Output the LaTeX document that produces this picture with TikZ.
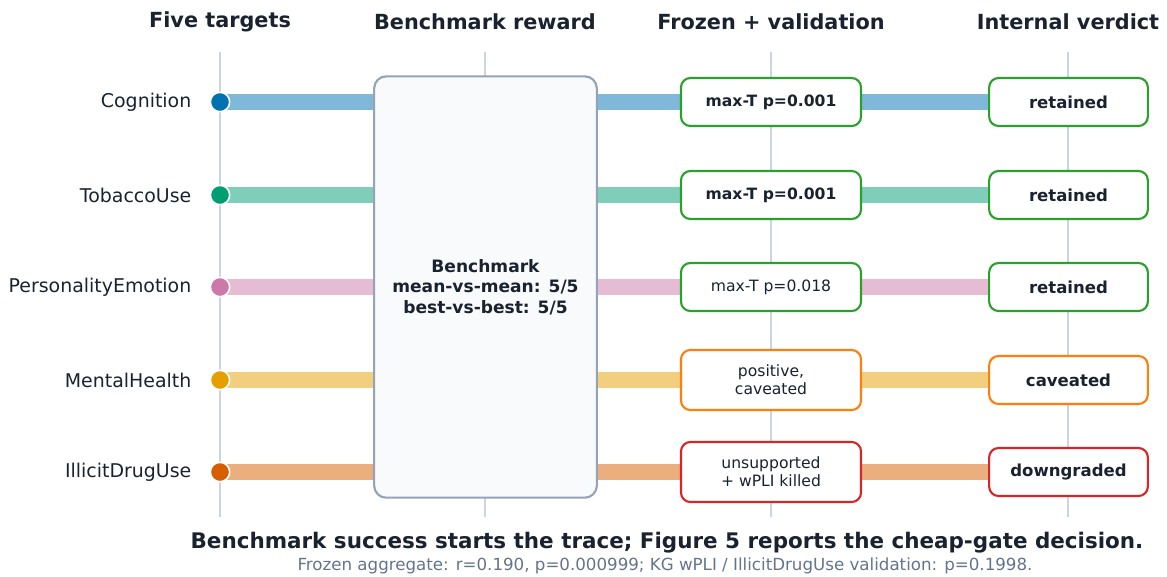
\documentclass[tikz,border=0pt]{standalone}
\usepackage{fontspec}
\setmainfont{DejaVu Sans}
\usetikzlibrary{positioning}
\definecolor{ink}{HTML}{1A2230}
\definecolor{grid}{HTML}{CBD5E1}
\definecolor{subgrey}{HTML}{64748B}
\definecolor{bmfill}{HTML}{F8FAFC}
\definecolor{bmdraw}{HTML}{94A3B8}
\definecolor{okgreen}{HTML}{2CA02C}
\definecolor{warnorange}{HTML}{FF7F0E}
\definecolor{badred}{HTML}{D62728}
\definecolor{cA}{HTML}{0072B2}
\definecolor{cB}{HTML}{009E73}
\definecolor{cC}{HTML}{CC79A7}
\definecolor{cD}{HTML}{E69F00}
\definecolor{cE}{HTML}{D55E00}
\pgfdeclarelayer{bg}
\pgfsetlayers{bg,main}
\tikzset{
  header/.style={font=\fontsize{15.6}{18}\selectfont\bfseries, text=ink, anchor=center},
  rowlabel/.style={font=\fontsize{14.2}{16}\selectfont, text=ink, anchor=east},
  dotnode/.style={circle, fill=#1, draw=white, line width=1.2pt, minimum size=14.5pt, inner sep=0pt},
  bar/.style={line width=12pt, draw=#1, draw opacity=0.5},
  gridline/.style={draw=grid, line width=1.1pt},
  frozenbox/.style={draw=#1, line width=1.6pt, fill=white, rounded corners=7pt, minimum width=135pt, align=center, text=ink, inner sep=2pt},
  verdictbox/.style={draw=#1, line width=1.6pt, fill=white, rounded corners=7pt, minimum width=119pt, minimum height=36pt, align=center, text=ink, font=\fontsize{12.4}{14}\selectfont\bfseries},
  boldsmall/.style={font=\fontsize{11.7}{13}\selectfont\bfseries},
  plainsmall/.style={font=\fontsize{11.7}{13.3}\selectfont},
}
\begin{document}
\begin{tikzpicture}[x=0.75pt, y=-0.75pt]
\useasboundingbox (0,0) rectangle (1167,576);
% headers
\node[header] (h1) at (220,22) {Five targets};
\node[header] (h2) at (485,22) {Benchmark reward};
\node[header] (h3) at (771,22) {Frozen + validation};
\node[header] (h4) at (1068,22) {Internal verdict};
% grid line ends
\foreach \i/\x in {1/220,2/485,3/771,4/1068}{
  \coordinate (gt\i) at (\x,52);
  \coordinate (gb\i) at (\x,517);
}
% benchmark box
\node[draw=bmdraw, fill=bmfill, line width=1.6pt, rounded corners=9pt, minimum width=167pt, minimum height=316pt, inner sep=0pt, align=center, text=ink, font=\fontsize{12.8}{15.4}\selectfont\bfseries] (bm) at (485.5,287) {Benchmark\\mean-vs-mean: 5/5\\best-vs-best: 5/5};
% rows
\foreach \n/\y/\lab/\c in {1/102/Cognition/cA, 2/195/TobaccoUse/cB, 3/287/PersonalityEmotion/cC, 4/380/MentalHealth/cD, 5/472/IllicitDrugUse/cE}{
  \node[dotnode=\c] (d\n) at (220,\y) {};
  \node[rowlabel] (l\n) at (196,\y) {\lab};
}
% frozen boxes
\node[frozenbox=okgreen, minimum height=36pt, boldsmall] (f1) at (771,102) {max-T p=0.001};
\node[frozenbox=okgreen, minimum height=36pt, boldsmall] (f2) at (771,195) {max-T p=0.001};
\node[frozenbox=okgreen, minimum height=36pt, plainsmall] (f3) at (771,287) {max-T p=0.018};
\node[frozenbox=warnorange, minimum height=45pt, plainsmall] (f4) at (771,380) {positive,\\caveated};
\node[frozenbox=badred, minimum height=45pt, plainsmall] (f5) at (771,472) {unsupported\\+ wPLI killed};
% verdict boxes
\node[verdictbox=okgreen] (v1) at (1068.5,102) {retained};
\node[verdictbox=okgreen] (v2) at (1068.5,195) {retained};
\node[verdictbox=okgreen] (v3) at (1068.5,287) {retained};
\node[verdictbox=warnorange] (v4) at (1068.5,380) {caveated};
\node[verdictbox=badred] (v5) at (1068.5,472) {downgraded};
% background lines and bars
\begin{pgfonlayer}{bg}
  \foreach \i in {1,2,3,4}{ \draw[gridline] (gt\i) -- (gb\i); }
  \draw[bar=cA] (d1.center) -- (v1.center);
  \draw[bar=cB] (d2.center) -- (v2.center);
  \draw[bar=cC] (d3.center) -- (v3.center);
  \draw[bar=cD] (d4.center) -- (v4.center);
  \draw[bar=cE] (d5.center) -- (v5.center);
\end{pgfonlayer}
% footer
\node[font=\fontsize{16.1}{18}\selectfont\bfseries, text=ink] (t1) at (667,542.5) {Benchmark success starts the trace; Figure 5 reports the cheap-gate decision.};
\node[font=\fontsize{12.5}{14}\selectfont, text=subgrey] (t2) at (665,566) {Frozen aggregate: r=0.190, p=0.000999; KG wPLI / IllicitDrugUse validation: p=0.1998.};
\end{tikzpicture}
\end{document}
